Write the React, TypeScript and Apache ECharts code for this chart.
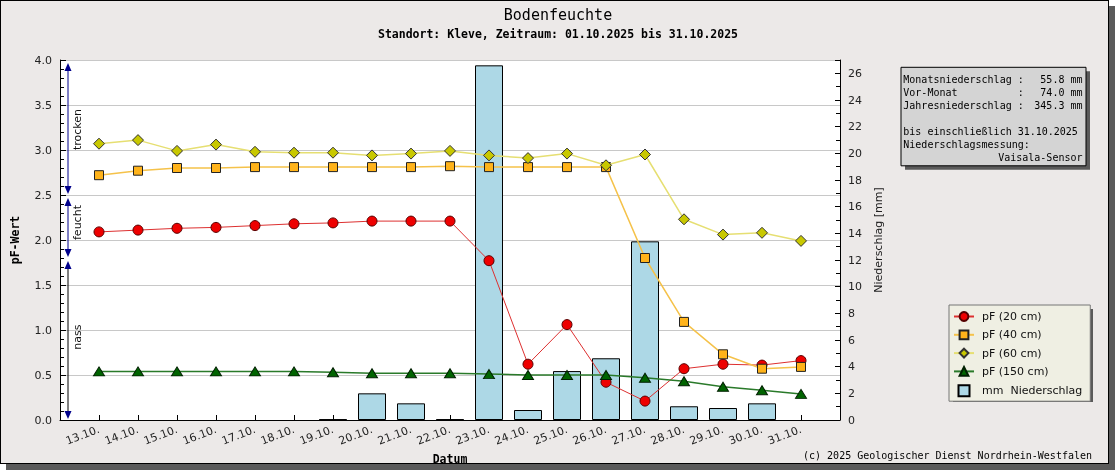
import React, { useEffect, useRef } from "react";
import * as echarts from "echarts";

const dates = ["13.10.", "14.10.", "15.10.", "16.10.", "17.10.", "18.10.", "19.10.", "20.10.", "21.10.", "22.10.", "23.10.", "24.10.", "25.10.", "26.10.", "27.10.", "28.10.", "29.10.", "30.10.", "31.10."];
const pf20 = [2.09, 2.11, 2.13, 2.14, 2.16, 2.18, 2.19, 2.21, 2.21, 2.21, 1.77, 0.62, 1.06, 0.42, 0.21, 0.57, 0.62, 0.61, 0.66];
const pf40 = [2.72, 2.77, 2.8, 2.8, 2.81, 2.81, 2.81, 2.81, 2.81, 2.82, 2.81, 2.81, 2.81, 2.81, 1.8, 1.09, 0.73, 0.57, 0.59];
const pf60 = [3.07, 3.11, 2.99, 3.06, 2.98, 2.97, 2.97, 2.94, 2.96, 2.99, 2.94, 2.91, 2.96, 2.83, 2.95, 2.23, 2.06, 2.08, 1.99];
const pf150 = [0.54, 0.54, 0.54, 0.54, 0.54, 0.54, 0.53, 0.52, 0.52, 0.52, 0.51, 0.5, 0.5, 0.5, 0.47, 0.43, 0.37, 0.33, 0.29];
const rain = [0, 0, 0, 0, 0, 0, 0.05, 2.0, 1.25, 0.05, 26.6, 0.75, 3.67, 4.63, 13.4, 1.03, 0.9, 1.25, 0];

const pfTicks = { min: 0, max: 4, interval: 0.5 };
const mmTicks = { min: 0, max: 27, interval: 2 };

const zones = [
  { label: "trocken", from: 2.5, to: 4.0, labelAt: 3.0, line: "#00008b" },
  { label: "feucht", from: 1.8, to: 2.5, labelAt: 2.0, line: "#00008b" },
  { label: "nass", from: 0, to: 1.8, labelAt: 0.78, line: "#000000" },
];

const monatsNiederschlag = 55.8;
const vorMonat = 74.0;
const jahresNiederschlag = 345.3;
const bisDatum = "31.10.2025";
const sensor = "Vaisala-Sensor";

const titleText = "Bodenfeuchte";
const subTitleText = "Standort: Kleve, Zeitraum: 01.10.2025 bis 31.10.2025";
const copyright = "(c) 2025 Geologischer Dienst Nordrhein-Westfalen";

const names = ["pF (20 cm)", "pF (40 cm)", "pF (60 cm)", "pF (150 cm)", "mm  Niederschlag"];

const pad = (a: (number | null)[]) => [null, ...a, null];
const SANS = "DejaVu Sans";
const MONO = "DejaVu Sans Mono";

export default function App() {
  const ref = useRef<HTMLDivElement>(null);
  useEffect(() => {
    const el = ref.current!;
    const chart = echarts.init(el, null, { renderer: "svg" });
    const labelStyle = { fontFamily: SANS, fontSize: 11, color: "#222" };
    const option: any = {
      animation: false,
      backgroundColor: "transparent",
      grid: {
        left: 59,
        top: 59,
        width: 780,
        height: 360,
        show: true,
        backgroundColor: "#ffffff",
        borderWidth: 0,
        containLabel: false,
        outerBoundsMode: "none",
      },
      legend: {
        orient: "vertical",
        left: 948,
        top: 304,
        padding: [6, 8, 4, 4],
        itemWidth: 20,
        itemHeight: 11,
        itemGap: 7.3,
        backgroundColor: "#efefe3",
        borderColor: "#777",
        borderWidth: 1,
        textStyle: { fontFamily: SANS, fontSize: 11, color: "#111", padding: [0, 0, 0, 3] },
        data: [
          { name: names[0] },
          { name: names[1] },
          { name: names[2] },
          { name: names[3] },
          { name: names[4], icon: "path://M0,0h10v10h-10z" },
        ],
      },
      xAxis: {
        type: "category",
        data: ["", ...dates, ""],
        boundaryGap: false,
        name: "Datum",
        nameLocation: "middle",
        nameGap: 30,
        nameTextStyle: { fontFamily: MONO, fontWeight: "bold", fontSize: 11.5, color: "#000" },
        axisLine: { show: true, lineStyle: { color: "#000" } },
        axisTick: { show: true, inside: true, length: 5, interval: 0, lineStyle: { color: "#000" } },
        axisLabel: { ...labelStyle, interval: 0, rotate: 21, margin: 9 },
        splitLine: { show: false },
      },
      yAxis: [
        {
          type: "value",
          ...pfTicks,
          position: "left",
          name: "pF-Wert",
          nameLocation: "middle",
          nameGap: 39,
          nameTextStyle: { fontFamily: MONO, fontWeight: "bold", fontSize: 11.5, color: "#000" },
          axisLine: { show: true, lineStyle: { color: "#000" } },
          axisTick: { show: true, inside: true, length: 6, lineStyle: { color: "#000" } },
          minorTick: { show: true, splitNumber: 5, length: 4, lineStyle: { color: "#000" } },
          axisLabel: { ...labelStyle, margin: 8, formatter: (v: number) => v.toFixed(1) },
          splitLine: { show: true, lineStyle: { color: "#c8c8c8" } },
        },
        {
          type: "value",
          ...mmTicks,
          position: "right",
          name: "Niederschlag [mm]",
          nameLocation: "middle",
          nameGap: 28,
          nameRotate: 90,
          nameTextStyle: { fontFamily: SANS, fontSize: 11, color: "#222" },
          axisLine: { show: true, lineStyle: { color: "#000" } },
          axisTick: { show: true, inside: true, length: 5, lineStyle: { color: "#000" } },
          minorTick: { show: true, splitNumber: 2, length: 4, lineStyle: { color: "#000" } },
          axisLabel: { ...labelStyle, margin: 8, showMaxLabel: false, formatter: (v: number) => (v > 26 ? "" : String(v)) },
          splitLine: { show: false },
        },
      ],
      series: [
        {
          name: names[4],
          type: "bar",
          yAxisIndex: 1,
          data: pad(rain.map((v) => (v > 0 ? v : null))),
          barWidth: 28,
          z: 1,
          itemStyle: { color: "#add8e6", borderColor: "#000", borderWidth: 1 },
        },
        {
          name: names[0],
          type: "line",
          data: pad(pf20),
          symbol: "circle",
          symbolSize: 10,
          z: 3,
          itemStyle: { color: "#ee0000", borderColor: "#550000", borderWidth: 1 },
          lineStyle: { color: "#dd3030", width: 1 },
        },
        {
          name: names[1],
          type: "line",
          data: pad(pf40),
          symbol: "rect",
          symbolSize: 9,
          z: 4,
          itemStyle: { color: "#ffb31a", borderColor: "#222", borderWidth: 1 },
          lineStyle: { color: "#f5c24a", width: 1.5 },
        },
        {
          name: names[2],
          type: "line",
          data: pad(pf60),
          symbol: "diamond",
          symbolSize: 11,
          z: 5,
          itemStyle: { color: "#c8c800", borderColor: "#333", borderWidth: 1 },
          lineStyle: { color: "#e6df72", width: 1.5 },
        },
        {
          name: names[3],
          type: "line",
          data: pad(pf150),
          symbol: "triangle",
          symbolSize: [11, 9],
          z: 6,
          itemStyle: { color: "#006400", borderColor: "#002000", borderWidth: 1 },
          lineStyle: { color: "#2a7a2a", width: 1.5 },
        },
      ],
    };
    chart.setOption(option);

    const yPx = (v: number) => chart.convertToPixel({ yAxisIndex: 0 }, v) as number;
    const x0 = chart.convertToPixel({ xAxisIndex: 0 }, 0) as number;
    const ax = x0 + 8;
    const els: any[] = [];
    zones.forEach((zn) => {
      const top = yPx(zn.to) + 3;
      const bot = yPx(zn.from) - 1;
      els.push({ type: "line", z: 10, shape: { x1: ax, y1: top + 6, x2: ax, y2: bot - 6 }, style: { stroke: zn.line, lineWidth: 1 } });
      els.push({ type: "polygon", z: 10, shape: { points: [[ax, top], [ax - 3.5, top + 8], [ax + 3.5, top + 8]] }, style: { fill: "#00008b" } });
      els.push({ type: "polygon", z: 10, shape: { points: [[ax, bot], [ax - 3.5, bot - 8], [ax + 3.5, bot - 8]] }, style: { fill: "#00008b" } });
      els.push({
        type: "text",
        z: 10,
        x: ax + 9,
        y: yPx(zn.labelAt),
        rotation: Math.PI / 2,
        style: { text: zn.label, font: `11px '${SANS}'`, fill: "#111", align: "left", verticalAlign: "middle" },
      });
    });

    // titles
    els.push({ type: "text", x: 557, y: 13.5, style: { text: titleText, font: `15px '${MONO}'`, fill: "#000", align: "center", verticalAlign: "middle" } });
    els.push({ type: "text", x: 557, y: 32.5, style: { text: subTitleText, font: `bold 11.5px '${MONO}'`, fill: "#000", align: "center", verticalAlign: "middle" } });
    els.push({ type: "text", x: 1091, y: 454, style: { text: copyright, font: `10px '${MONO}'`, fill: "#000", align: "right", verticalAlign: "middle" } });

    // legend shadow
    els.push({ type: "rect", z: 0, shape: { x: 952, y: 308, width: 140, height: 93 }, style: { fill: "#5a5a5a" } });

    // info box
    const bx = 900, by = 66.3, bw = 185, bh = 98.5;
    els.push({ type: "rect", z: 1, shape: { x: bx + 4, y: by + 4, width: bw, height: bh }, style: { fill: "#5a5a5a" } });
    els.push({ type: "rect", z: 2, shape: { x: bx, y: by, width: bw, height: bh }, style: { fill: "#d4d4d4", stroke: "#000", lineWidth: 1 } });
    const tx = bx + 2.3;
    const colon = tx + 19 * 6.02;
    const rx = bx + bw - 3.5;
    const font = `10px '${MONO}'`;
    const row = (y: number, name: string, val: string) => {
      els.push({ type: "text", z: 3, x: tx, y, style: { text: name, font, fill: "#000", align: "left", verticalAlign: "middle" } });
      els.push({ type: "text", z: 3, x: colon, y, style: { text: ":", font, fill: "#000", align: "left", verticalAlign: "middle" } });
      els.push({ type: "text", z: 3, x: rx, y, style: { text: val, font, fill: "#000", align: "right", verticalAlign: "middle" } });
    };
    const y0 = by + 11.7;
    const lh = 13;
    row(y0, "Monatsniederschlag", monatsNiederschlag.toFixed(1) + " mm");
    row(y0 + lh, "Vor-Monat", vorMonat.toFixed(1) + " mm");
    row(y0 + 2 * lh, "Jahresniederschlag", jahresNiederschlag.toFixed(1) + " mm");
    els.push({ type: "text", z: 3, x: tx, y: y0 + 4 * lh, style: { text: "bis einschließlich " + bisDatum, font, fill: "#000", align: "left", verticalAlign: "middle" } });
    els.push({ type: "text", z: 3, x: tx, y: y0 + 5 * lh, style: { text: "Niederschlagsmessung:", font, fill: "#000", align: "left", verticalAlign: "middle" } });
    els.push({ type: "text", z: 3, x: rx, y: y0 + 6 * lh, style: { text: sensor, font, fill: "#000", align: "right", verticalAlign: "middle" } });

    chart.setOption({ graphic: [{ elements: els }] });
    return () => chart.dispose();
  }, []);

  return (
    <div
      style={{
        position: "fixed",
        left: 0,
        top: 0,
        width: 1109,
        height: 464,
        boxSizing: "border-box",
        border: "1px solid #000",
        background: "#ece9e8",
        boxShadow: "6px 6px 0 #5a5a5a",
      }}
    >
      <div ref={ref} style={{ width: 1107, height: 468 }} />
    </div>
  );
}
